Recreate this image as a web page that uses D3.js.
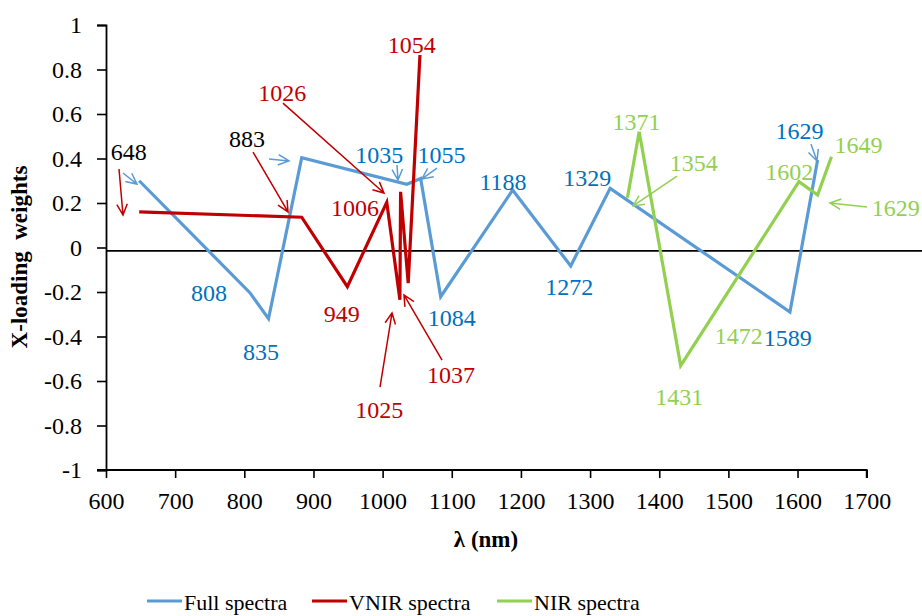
<!DOCTYPE html>
<html>
<head>
<meta charset="utf-8">
<script src="https://cdn.jsdelivr.net/npm/d3@7"></script>
<style>
  body { margin: 0; background: #fff; }
</style>
</head>
<body>
<svg id="chart" width="922" height="616"></svg>
<script>
// X-loading weights of the selected wavelengths for each spectral range
const fullWavelengths = [648, 808, 835, 883, 1035, 1055, 1084, 1188, 1272, 1329, 1589, 1629];
const fullWeights     = [0.30, -0.203, -0.32, 0.404, 0.284, 0.31, -0.221, 0.258, -0.083, 0.266, -0.29, 0.393];

const vnirWavelengths = [648, 883, 949, 1006, 1025, 1026, 1037, 1054];
const vnirWeights     = [0.16, 0.136, -0.176, 0.203, -0.235, 0.25, -0.16, 0.865];

const nirWavelengths  = [1354, 1371, 1431, 1472, 1602, 1629, 1649];
const nirWeights      = [0.224, 0.52, -0.531, -0.333, 0.296, 0.236, 0.408];

const xTickValues = [600, 700, 800, 900, 1000, 1100, 1200, 1300, 1400, 1500, 1600, 1700];
const yTickValues = [-1, -0.8, -0.6, -0.4, -0.2, 0, 0.2, 0.4, 0.6, 0.8, 1];

const seriesNames = ["Full spectra", "VNIR spectra", "NIR spectra"];

const FONT = "Liberation Serif, Lato";
const lineColors = { full: "#5B9BD5", vnir: "#C00000", nir: "#92D050" };
const textColors = { full: "#0070C0", vnir: "#C00000", nir: "#92D050", plain: "#000000" };

// Wavelength labels, anchored in chart units (centre x, baseline y)
const labelTexts = ["808","835","1035","1055","1084","1188","1272","1329","1589","1629",
                    "648","883",
                    "1026","1054","1006","949","1025","1037",
                    "1371","1354","1602","1649","1629","1472","1431"];
const labelGroups = ["full","full","full","full","full","full","full","full","full","full",
                     "plain","plain",
                     "vnir","vnir","vnir","vnir","vnir","vnir",
                     "nir","nir","nir","nir","nir","nir","nir"];
const labelAt = [[749,-0.240],[824,-0.506],[995,0.380],[1085,0.380],[1100,-0.353],[1174,0.258],
                 [1270,-0.213],[1296,0.276],[1586,-0.443],[1603,0.488],
                 [633,0.393],[804,0.452],
                 [855,0.658],[1042,0.874],[960,0.142],[941,-0.335],[995,-0.766],[1099,-0.609],
                 [1367,0.528],[1450,0.344],[1588,0.303],[1688,0.425],[1742,0.142],[1515,-0.434],[1429,-0.708]];

// Pointer arrows (from -> to), in chart units
const arrowGroups = ["full","full","full","full","full","vnir","vnir","vnir","vnir","vnir","nir","nir"];
const arrowPaths = [
  [[624.6,0.335],[644.8,0.285]],
  [[835.7,0.398],[864.6,0.389]],
  [[1020.8,0.371],[1022.2,0.303]],
  [[1078.6,0.357],[1056.9,0.308]],
  [[1619.4,0.465],[1628.1,0.389]],
  [[618.8,0.353],[624.6,0.146]],
  [[812.6,0.429],[863.2,0.160]],
  [[855.9,0.649],[1002,0.245]],
  [[996.2,-0.627],[1013.6,-0.294]],
  [[1085.9,-0.506],[1030.9,-0.213]],
  [[1425.7,0.321],[1362.1,0.187]],
  [[1700.4,0.182],[1646.9,0.200]]
];

const svg = d3.select("#chart");

const x = d3.scaleLinear().domain([600, 1700]).range([106, 866.7]);
const y = d3.scaleLinear().domain([-1, 1]).range([470, 25]);

// Axes
const xAxis = d3.axisBottom(x).tickValues(xTickValues).tickSize(8).tickPadding(14).tickFormat(d => String(d));
const yAxis = d3.axisLeft(y).tickValues(yTickValues).tickSize(9).tickPadding(15).tickFormat(d => String(d));

const gx = svg.append("g").attr("transform", `translate(0,${y(-1)})`).call(xAxis);
const gy = svg.append("g").attr("transform", `translate(${x(600)},0)`).call(yAxis);

[gx, gy].forEach(g => {
  g.attr("font-family", FONT).attr("font-size", 24);
  g.select(".domain").attr("stroke", "#000").attr("stroke-width", 1.8);
  g.selectAll(".tick line").attr("stroke", "#000").attr("stroke-width", 1.6);
  g.selectAll(".tick text").attr("fill", "#000");
});
// y-axis tick at -1 runs along the x-axis; extend the x-axis baseline to meet it
gx.select(".domain").attr("d", `M${x(600) - 9},0H${x(1700)}V8`);

// Reference line near zero
svg.append("line")
  .attr("x1", x(600)).attr("x2", 922)
  .attr("y1", y(-0.015)).attr("y2", y(-0.015))
  .attr("stroke", "#000").attr("stroke-width", 1.6);

// Series lines
const line = d3.line().x(d => x(d[0])).y(d => y(d[1]));
const series = [
  { key: "full", pts: d3.zip(fullWavelengths, fullWeights) },
  { key: "vnir", pts: d3.zip(vnirWavelengths, vnirWeights) },
  { key: "nir",  pts: d3.zip(nirWavelengths, nirWeights) }
];
svg.append("g").selectAll("path").data(series).join("path")
  .attr("d", d => line(d.pts))
  .attr("fill", "none")
  .attr("stroke", d => lineColors[d.key])
  .attr("stroke-width", 3.2)
  .attr("stroke-linejoin", "miter");

// Arrows: shaft plus an open V head
const arrowG = svg.append("g");
arrowPaths.forEach((p, i) => {
  const x1 = x(p[0][0]), y1 = y(p[0][1]), x2 = x(p[1][0]), y2 = y(p[1][1]);
  const a = Math.atan2(y2 - y1, x2 - x1);
  const L = 12, spread = 0.45;
  const hx1 = x2 - L * Math.cos(a - spread), hy1 = y2 - L * Math.sin(a - spread);
  const hx2 = x2 - L * Math.cos(a + spread), hy2 = y2 - L * Math.sin(a + spread);
  const col = lineColors[arrowGroups[i]];
  arrowG.append("path")
    .attr("d", `M${x1},${y1}L${x2},${y2}M${hx1},${hy1}L${x2},${y2}L${hx2},${hy2}`)
    .attr("fill", "none").attr("stroke", col).attr("stroke-width", 1.5);
});

// Wavelength labels
svg.append("g").attr("font-family", FONT).attr("font-size", 24)
  .selectAll("text").data(labelTexts).join("text")
  .attr("x", (d, i) => x(labelAt[i][0]))
  .attr("y", (d, i) => y(labelAt[i][1]))
  .attr("text-anchor", "middle")
  .attr("fill", (d, i) => textColors[labelGroups[i]])
  .text(d => d);

// Axis titles
svg.append("text")
  .attr("transform", `translate(27,${257}) rotate(-90)`)
  .attr("text-anchor", "middle")
  .attr("font-family", FONT).attr("font-size", 23).attr("font-weight", "bold")
  .attr("fill", "#000")
  .text("X-loading\u00A0\u00A0weights");

svg.append("text")
  .attr("x", 486).attr("y", 547)
  .attr("text-anchor", "middle")
  .attr("font-family", FONT).attr("font-size", 23).attr("font-weight", "bold")
  .attr("fill", "#000")
  .text("λ (nm)");

// Legend
const legendKeys = ["full", "vnir", "nir"];
const legendX = [147, 312, 497];
const legend = svg.append("g").attr("font-family", FONT).attr("font-size", 22);
legendKeys.forEach((k, i) => {
  legend.append("line")
    .attr("x1", legendX[i]).attr("x2", legendX[i] + 35)
    .attr("y1", 601).attr("y2", 601)
    .attr("stroke", lineColors[k]).attr("stroke-width", 3.2);
  legend.append("text")
    .attr("x", legendX[i] + 37).attr("y", 610)
    .attr("fill", "#000")
    .text(seriesNames[i]);
});
</script>
</body>
</html>
